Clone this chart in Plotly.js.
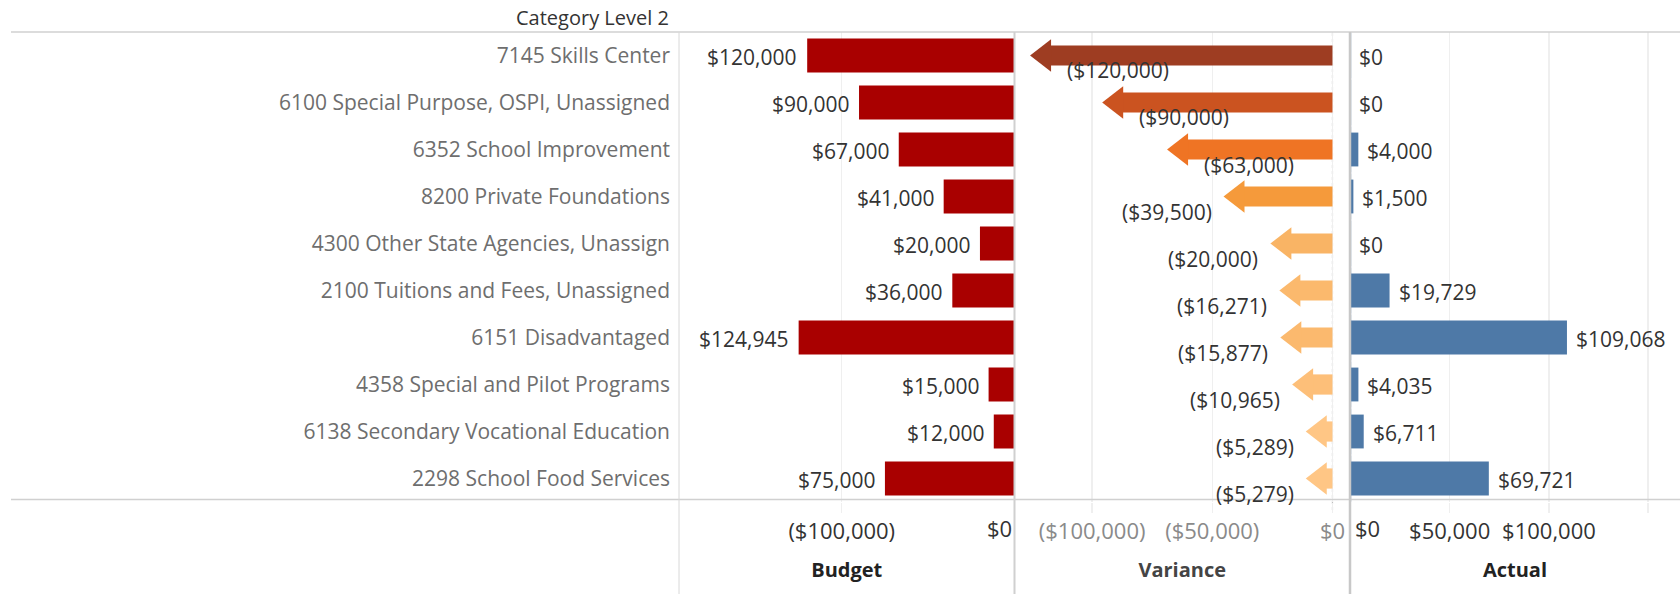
<!DOCTYPE html>
<html><head><meta charset="utf-8">
<script src="https://cdn.plot.ly/plotly-3.0.1.min.js"></script>
<style>html,body{margin:0;padding:0;background:#fff}#chart{width:1680px;height:594px}</style>
</head><body><div id="chart"></div>
<script>
const categories = ["7145 Skills Center","6100 Special Purpose, OSPI, Unassigned","6352 School Improvement","8200 Private Foundations","4300 Other State Agencies, Unassign","2100 Tuitions and Fees, Unassigned","6151 Disadvantaged","4358 Special and Pilot Programs","6138 Secondary Vocational Education","2298 School Food Services"];
const budget = [120000, 90000, 67000, 41000, 20000, 36000, 124945, 15000, 12000, 75000];
const actual = [0, 0, 4000, 1500, 0, 19729, 109068, 4035, 6711, 69721];
const variance = [-120000, -90000, -63000, -39500, -20000, -16271, -15877, -10965, -5289, -5279];
const budgetTicks = [-100000, 0];
const varianceTicks = [-100000, -50000, 0];
const actualTicks = [0, 50000, 100000, 150000];

const W = 1680, H = 594;
const FONT = "'Open Sans', sans-serif";
const px = v => v / W;
const py = v => (H - v) / H;
const money = v => v < 0 ? '($' + Math.abs(v).toLocaleString('en-US') + ')' : '$' + v.toLocaleString('en-US');

const orangeScale = [[0,'#9e3d22'],[0.26,'#cb5320'],[0.5,'#ef7424'],[0.7,'#f59a3b'],[0.87,'#f9b465'],[1,'#ffc685']];
const vMin = Math.min(...variance), vMax = Math.max(...variance);

const traces = [
  {type:'bar', orientation:'h', y:categories, x:budget.map(v => -v), xaxis:'x', yaxis:'y',
   width:0.72, marker:{color:'#a90000'}, hoverinfo:'skip'},
  {type:'bar', orientation:'h', y:categories, x:variance, xaxis:'x2', yaxis:'y',
   width:0.43, marker:{color:variance, colorscale:orangeScale, cmin:vMin, cmax:vMax}, hoverinfo:'skip'},
  {type:'scatter', mode:'markers', y:categories, x:variance, xaxis:'x2', yaxis:'y', cliponaxis:false,
   marker:{symbol:'triangle-left', size:28, color:variance, colorscale:orangeScale, cmin:vMin, cmax:vMax}, hoverinfo:'skip'},
  {type:'bar', orientation:'h', y:categories, x:actual, xaxis:'x3', yaxis:'y',
   width:0.72, marker:{color:'#4e79a7'}, hoverinfo:'skip'},
  // baseline stub of each actual bar (visible for $0 rows)
  {type:'scatter', mode:'markers', y:categories, x:actual.map(() => 0), xaxis:'x3', yaxis:'y', cliponaxis:false,
   marker:{symbol:'line-ns', size:33, line:{color:'#4e79a7', width:1.5}}, hoverinfo:'skip'}
];

const annotations = [];
categories.forEach((c, i) => {
  annotations.push({xref:'x', yref:'y', x:-budget[i], y:c, text:money(budget[i]), showarrow:false,
    xanchor:'right', xshift:-8, yshift:-1.5, font:{size:21, color:'#333'}});
  const right = variance[i] < -60000;
  annotations.push({xref:'x2', yref:'y', x:variance[i], y:c, text:money(variance[i]), showarrow:false,
    xanchor: right ? 'left' : 'right', xshift: right ? 21 : -24, yshift:-15, font:{size:21, color:'#333'}});
  annotations.push({xref:'x3', yref:'y', x:actual[i], y:c, text:money(actual[i]), showarrow:false,
    xanchor:'left', xshift:7, yshift:-1.5, font:{size:21, color:'#333'}});
});
annotations.push({xref:'paper', yref:'paper', x:px(671), y:py(18), text:'Category Level 2', showarrow:false,
  xanchor:'right', yanchor:'middle', font:{size:20, color:'#333'}});
// zero tick labels kept inside their panels
annotations.push({xref:'x', yref:'paper', x:0, y:py(528), text:'$0', showarrow:false,
  xanchor:'right', yanchor:'middle', xshift:-1, font:{size:22, color:'#333'}});
annotations.push({xref:'x3', yref:'paper', x:0, y:py(528), text:'$0', showarrow:false,
  xanchor:'left', yanchor:'middle', xshift:3, font:{size:22, color:'#333'}});

const lineCol = '#d0d0d0';
const shapes = [
  {type:'line', xref:'paper', yref:'paper', x0:px(11), x1:1, y0:py(32), y1:py(32), line:{color:lineCol, width:1.5}},
  {type:'line', xref:'paper', yref:'paper', x0:px(11), x1:1, y0:py(499.5), y1:py(499.5), line:{color:lineCol, width:1.5}},
  {type:'line', xref:'paper', yref:'paper', x0:px(679), x1:px(679), y0:0, y1:py(32), line:{color:'#d8d8d8', width:1}},
  {type:'line', xref:'paper', yref:'paper', x0:px(1014.5), x1:px(1014.5), y0:0, y1:py(32), line:{color:lineCol, width:2}},
  {type:'line', xref:'paper', yref:'paper', x0:px(1350), x1:px(1350), y0:0, y1:py(32), line:{color:'#c8c8c8', width:2.5}},
  {type:'line', xref:'x2', yref:'paper', x0:0, x1:0, y0:py(510), y1:py(32), layer:'below', line:{color:'#bdbdbd', width:1.2, dash:'dot'}}
];

const axBase = {showgrid:true, gridcolor:'#efefef', gridwidth:1.5, zeroline:false, showline:false,
  ticks:'outside', ticklen:10, tickcolor:'#efefef', tickwidth:1.5, fixedrange:true, anchor:'y'};

const layout = {
  width:W, height:H, margin:{l:0, r:0, t:0, b:0}, paper_bgcolor:'#fff', plot_bgcolor:'#fff',
  showlegend:false, barmode:'overlay', font:{family:FONT, size:20, color:'#333'},
  yaxis:{domain:[py(502), py(32)], type:'category', categoryorder:'array', categoryarray:categories,
    range:[categories.length - 0.5, -0.5], anchor:'x', showgrid:false, zeroline:false, showline:false, ticks:'',
    tickfont:{size:21, color:'#6e6e6e'}, ticklabelstandoff:8, ticklabelshift:1.5, fixedrange:true},
  xaxis:Object.assign({}, axBase, {domain:[px(679), px(1014.5)], range:[-194200, 0],
    tickvals:budgetTicks, ticktext:budgetTicks.map(v => v === 0 ? '' : money(v)),
    tickfont:{size:22, color:'#333'},
    title:{text:'<b>Budget</b>', font:{size:20, color:'#222'}, standoff:18}}),
  xaxis2:Object.assign({}, axBase, {domain:[px(1014.5), px(1350)], range:[-132300, 7300],
    tickvals:varianceTicks, ticktext:varianceTicks.map(money),
    tickfont:{size:22, color:'#8a8a8a'},
    title:{text:'<b>Variance</b>', font:{size:20, color:'#444'}, standoff:18}}),
  xaxis3:Object.assign({}, axBase, {domain:[px(1350), 1], range:[-200, 166000],
    tickvals:actualTicks, ticktext:actualTicks.map(v => (v === 0 || v >= 150000) ? '' : money(v)),
    tickfont:{size:22, color:'#333'},
    title:{text:'<b>Actual</b>', font:{size:20, color:'#222'}, standoff:18}}),
  annotations, shapes
};

Plotly.newPlot('chart', traces, layout, {displayModeBar:false, staticPlot:true});
</script>
</body></html>
